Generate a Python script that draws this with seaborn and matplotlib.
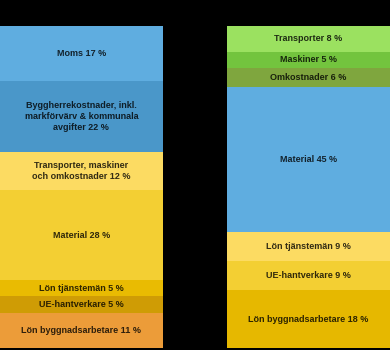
import matplotlib
matplotlib.use("Agg")
import matplotlib.pyplot as plt
import seaborn as sns

left_labels = ["Moms 17 %",
               "Byggherrekostnader, inkl.\nmarkförvärv & kommunala\navgifter 22 %",
               "Transporter, maskiner\noch omkostnader 12 %",
               "Material 28 %",
               "Lön tjänstemän 5 %",
               "UE-hantverkare 5 %",
               "Lön byggnadsarbetare 11 %"]
left_values = [17, 22, 12, 28, 5, 5, 11]
left_colors = ["#5fade0", "#4a97c9", "#fcdb62", "#f3cf33", "#e9bb02", "#cf9c05", "#ec9c39"]

right_labels = ["Transporter 8 %", "Maskiner 5 %", "Omkostnader 6 %",
                "Material 45 %", "Lön tjänstemän 9 %", "UE-hantverkare 9 %",
                "Lön byggnadsarbetare 18 %"]
right_values = [8, 5, 6, 45, 9, 9, 18]
right_colors = ["#9be160", "#73c43e", "#7fa63e", "#5fade0", "#fcdb62", "#f3cf33", "#e6b800"]

bars = ["Före", "Efter"]

sns.set_theme(style="white")
plt.rcParams["font.family"] = ["Liberation Sans", "DejaVu Sans"]

fig = plt.figure(figsize=(3.9, 3.5), dpi=100)
fig.patch.set_facecolor("black")
ax = fig.add_axes([0, 2 / 350, 1, 322 / 350])
ax.set_facecolor("black")

width = 0.7165
for xi, (labels, values, colors) in enumerate(
        [(left_labels, left_values, left_colors),
         (right_labels, right_values, right_colors)]):
    bottom = 0
    for lab, val, col in zip(labels, values, colors):
        ax.bar(xi, val, bottom=bottom, width=width, color=col, linewidth=0)
        ax.text(xi, bottom + val / 2, lab, ha="center", va="center",
                fontsize=6.5, fontweight="bold", color="black", alpha=0.8,
                linespacing=1.3)
        bottom += val

sns.despine(ax=ax, left=True, bottom=True)
ax.set_xlim(-width / 2, 1 + width / 2)
ax.set_ylim(100, 0)
ax.set_xticks([])
ax.set_yticks([])
for s in ax.spines.values():
    s.set_visible(False)

fig.savefig("out.png", dpi=100, facecolor="black")
